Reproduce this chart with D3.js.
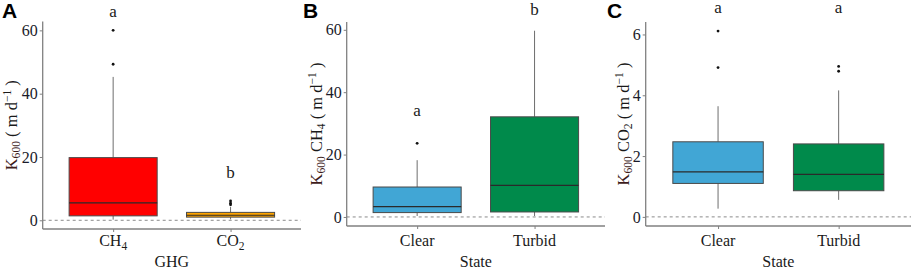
<!DOCTYPE html>
<html>
<head>
<meta charset="utf-8">
<script src="https://cdn.jsdelivr.net/npm/d3@7"></script>
<style>
  body { margin: 0; background: #fff; }
  svg { display: block; }
  text { font-family: "Liberation Serif", "Times New Roman", serif; fill: #1a1a1a; }
</style>
</head>
<body>
<svg id="chart" width="913" height="270"></svg>
<script>
// ---- data ----
const ghgCats = ["CH4", "CO2"];
const ghgLo = [0.2, 0.3];
const ghgQ1 = [1.4, 1.0];
const ghgMed = [5.5, 1.6];
const ghgQ3 = [19.8, 2.5];
const ghgHi = [45.3, 4.2];
const ghgOut = [[49.3, 60.0], [4.9, 5.4, 6.1]];
const ghgLetters = ["a", "b"];
const ghgLetterY = [64.1, 13.3];

const stateCats = ["Clear", "Turbid"];

const ch4Lo = [0.3, 0.3];
const ch4Q1 = [1.4, 1.6];
const ch4Med = [3.3, 10.1];
const ch4Q3 = [9.6, 32.1];
const ch4Hi = [18.2, 59.7];
const ch4Out = [[23.6], []];
const ch4Letters = ["a", "b"];
const ch4LetterY = [32.3, 64.7];

const co2Lo = [0.27, 0.56];
const co2Q1 = [1.10, 0.86];
const co2Med = [1.48, 1.40];
const co2Q3 = [2.47, 2.40];
const co2Hi = [3.64, 4.16];
const co2Out = [[4.91, 6.11], [4.79, 4.95]];
const co2Letters = ["a", "a"];
const co2LetterY = [6.72, 6.72];

const yTicksA = [0, 20, 40, 60];
const yTicksB = [0, 20, 40, 60];
const yTicksC = [0, 2, 4, 6];

const svg = d3.select("#chart");

// text with trailing digits as subscript (CH4 -> CH<sub>4</sub>)
function subLabel(sel, s) {
  const m = s.match(/^(.*?)(\d*)$/);
  sel.append("tspan").text(m[1]);
  if (m[2]) sel.append("tspan").attr("font-size", "0.72em").attr("dy", 4).text(m[2]);
}

function drawPanel(p) {
  const g = svg.append("g");
  const y = d3.scaleLinear().domain(p.domain).range([p.bottom, p.top]);
  const x = d3.scalePoint().domain(p.cats).range([p.left, p.right]).padding(0.6);
  const bw = x.step() * 0.75;

  const rows = p.cats.map((c, i) => ({
    cat: c, lo: p.lo[i], q1: p.q1[i], med: p.med[i], q3: p.q3[i], hi: p.hi[i],
    out: p.out[i], fill: p.fills[i], letter: p.letters[i], ly: p.letterY[i]
  }));

  // zero reference
  g.append("line")
    .attr("x1", p.left).attr("x2", p.right)
    .attr("y1", y(0)).attr("y2", y(0))
    .attr("stroke", "#8a8a8a").attr("stroke-width", 1)
    .attr("stroke-dasharray", "3,3");

  // whiskers
  const wh = g.selectAll(".wh").data(rows).join("g");
  wh.append("line")
    .attr("x1", d => x(d.cat)).attr("x2", d => x(d.cat))
    .attr("y1", d => y(d.q3)).attr("y2", d => y(d.hi))
    .attr("stroke", "#6e6e6e").attr("stroke-width", 1);
  wh.append("line")
    .attr("x1", d => x(d.cat)).attr("x2", d => x(d.cat))
    .attr("y1", d => y(d.q1)).attr("y2", d => y(d.lo))
    .attr("stroke", "#6e6e6e").attr("stroke-width", 1);

  // boxes
  g.selectAll(".box").data(rows).join("rect")
    .attr("x", d => x(d.cat) - bw / 2)
    .attr("width", bw)
    .attr("y", d => y(d.q3))
    .attr("height", d => y(d.q1) - y(d.q3))
    .attr("fill", d => d.fill)
    .attr("stroke", "#4a4a4a").attr("stroke-width", 1);

  g.selectAll(".med").data(rows).join("line")
    .attr("x1", d => x(d.cat) - bw / 2).attr("x2", d => x(d.cat) + bw / 2)
    .attr("y1", d => y(d.med)).attr("y2", d => y(d.med))
    .attr("stroke", "#2a2a2a").attr("stroke-width", 1.2);

  // outliers
  const pts = rows.flatMap(d => d.out.map(v => ({ cat: d.cat, v })));
  g.selectAll(".pt").data(pts).join("circle")
    .attr("cx", d => x(d.cat)).attr("cy", d => y(d.v))
    .attr("r", 1.4).attr("fill", "#111");

  // significance letters
  g.selectAll(".let").data(rows).join("text")
    .attr("x", d => x(d.cat)).attr("y", d => y(d.ly))
    .attr("text-anchor", "middle")
    .style("font-size", "17px")
    .text(d => d.letter);

  // axes
  const yAxis = d3.axisLeft(y).tickValues(p.yTicks).tickSize(3).tickPadding(2)
    .tickFormat(d3.format("d"));
  const ya = g.append("g").attr("transform", `translate(${p.left},0)`).call(yAxis);
  ya.select(".domain").attr("d", `M0,${p.bottom}V${p.top}`);
  const xAxis = d3.axisBottom(x).tickSize(3).tickFormat("");
  const xa = g.append("g").attr("transform", `translate(0,${p.bottom})`).call(xAxis);
  xa.select(".domain").attr("d", `M${p.left},0H${p.right}`);
  [ya, xa].forEach(a => {
    a.select(".domain").attr("stroke", "#808080").attr("stroke-width", 1.3);
    a.selectAll(".tick line").attr("stroke", "#808080").attr("stroke-width", 1);
  });
  ya.selectAll(".tick text")
    .style("font-size", "16px")
    .style("fill", "#1a1a2a");

  // x category labels
  p.cats.forEach(c => {
    const t = g.append("text").attr("x", x(c)).attr("y", 246)
      .attr("text-anchor", "middle").style("font-size", "16px");
    subLabel(t, c);
  });

  // x title
  g.append("text").attr("x", (p.left + p.right) / 2).attr("y", 267)
    .attr("text-anchor", "middle").style("font-size", "16px").text(p.xTitle);

  // y title
  const cy = (p.top + p.bottom) / 2;
  const yt = g.append("text")
    .attr("transform", `translate(${p.titleX},${cy}) rotate(-90)`)
    .attr("text-anchor", "middle").style("font-size", "16.5px");
  yt.append("tspan").style("fill", "#3e1c1c").text("K");
  yt.append("tspan").style("fill", "#3e1c1c").attr("font-size", "0.7em").attr("dy", 3).text("600");
  if (p.gas) {
    yt.append("tspan").attr("dy", -3).text(" " + p.gas.slice(0, 2));
    yt.append("tspan").attr("font-size", "0.7em").attr("dy", 3).text(p.gas.slice(2));
  }
  yt.append("tspan").attr("dy", -3).text(" ( m d");
  yt.append("tspan").attr("font-size", "0.7em").attr("dy", -6).text("\u22121");
  yt.append("tspan").attr("dy", 6).text(" )");

  // panel tag
  svg.append("text").attr("x", p.tagX).attr("y", 18)
    .style("font-family", "'Liberation Sans', Arial, sans-serif")
    .style("font-weight", "bold").style("font-size", "21px").style("fill", "#000")
    .text(p.tag);
}

drawPanel({
  tag: "A", tagX: 2, cats: ghgCats, lo: ghgLo, q1: ghgQ1, med: ghgMed, q3: ghgQ3, hi: ghgHi,
  out: ghgOut, fills: ["#ff0000", "#ffa500"], letters: ghgLetters, letterY: ghgLetterY,
  yTicks: yTicksA, domain: [-2.75, 62.8], left: 42.7, right: 301, top: 21.5, bottom: 229,
  xTitle: "GHG", titleX: 17, gas: null
});
drawPanel({
  tag: "B", tagX: 303, cats: stateCats, lo: ch4Lo, q1: ch4Q1, med: ch4Med, q3: ch4Q3, hi: ch4Hi,
  out: ch4Out, fills: ["#41a6d5", "#008a4b"], letters: ch4Letters, letterY: ch4LetterY,
  yTicks: yTicksB, domain: [-2.9, 62.5], left: 346.7, right: 605, top: 22, bottom: 226,
  xTitle: "State", titleX: 321.5, gas: "CH4"
});
drawPanel({
  tag: "C", tagX: 607, cats: stateCats, lo: co2Lo, q1: co2Q1, med: co2Med, q3: co2Q3, hi: co2Hi,
  out: co2Out, fills: ["#41a6d5", "#008a4b"], letters: co2Letters, letterY: co2LetterY,
  yTicks: yTicksC, domain: [-0.3, 6.41], left: 645.7, right: 911, top: 22, bottom: 226,
  xTitle: "State", titleX: 629, gas: "CO2"
});
</script>
</body>
</html>
